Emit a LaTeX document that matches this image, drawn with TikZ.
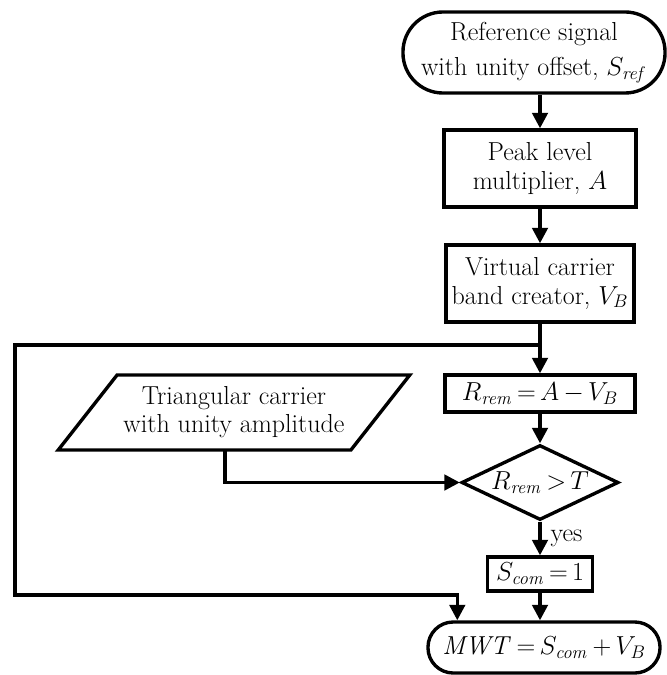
\RequirePackage{fix-cm}
\documentclass[tikz,border=0pt]{standalone}
\usepackage{tikz}
\usetikzlibrary{arrows.meta}
\usetikzlibrary{shapes.geometric}
\usetikzlibrary{calc}
\usetikzlibrary{positioning}

\newcommand{\flowfont}{\fontsize{18.5}{20}\selectfont\thickmuskip=3mu\relax\medmuskip=3mu\relax}
\tikzset{
  blk/.style={draw, line width=2.4pt, align=center, inner sep=2pt, font=\flowfont},
  arw/.style={line width=2.4pt, -{Triangle[length=11pt,width=11pt]}},
}

\begin{document}
\begin{tikzpicture}[x=0.025cm, y=-0.025cm]
    \useasboundingbox (0,0) rectangle (666,675);

    % main column
    \node[blk, rounded corners=1cm, minimum width=6.55cm, minimum height=2.025cm] (start) at (534,52.5)
        {Reference signal\\[5pt] with unity offset, $S_{\mathit{ref}}$};
    \node[blk, minimum width=4.8cm, minimum height=1.925cm] (peak) at (540,168.5)
        {Peak level\\ multiplier, $A$};
    \node[blk, minimum width=4.7cm, minimum height=1.925cm] (vband) at (540,283.5)
        {Virtual carrier\\ band creator, $V_B$};
    \node[blk, minimum width=4.75cm, minimum height=0.925cm] (rrem) at (540,393.5)
        {$R_{\mathit{rem}} = A - V_B$};
    \node[blk, diamond, aspect=2, inner sep=0pt, minimum width=3.925cm, minimum height=1.875cm] (cmp) at (540,482.5)
        {$R_{\mathit{rem}} > T$};
    \node[blk, minimum width=2.625cm, minimum height=0.85cm] (scom) at (540,574)
        {$S_{\mathit{com}} = 1$};
    \node[blk, rounded corners=0.63cm, minimum width=5.8cm, minimum height=1.275cm] (mwt) at (544,647.5)
        {$\mathit{MWT} = S_{\mathit{com}} + V_B$};

    % carrier input
    \node[blk, trapezium, trapezium left angle=45, trapezium right angle=135, trapezium stretches=true,
        minimum width=8.8cm, minimum height=1.875cm] (tri) at (234,412.5)
        {Triangular carrier\\ with unity amplitude};

    \draw[arw] (peak.north |- start.south) -- (peak.north);
    \draw[arw] (peak) -- (vband);
    \draw[arw] (vband) -- (rrem);
    \draw[arw] (rrem) -- (cmp);
    \draw[arw] (cmp) -- node[right=3pt, font=\flowfont] (yeslbl) {yes} (scom);
    \draw[arw] (scom.south) -- (scom.south |- mwt.north);

    \coordinate (trout) at (225,450);
    \draw[arw] (trout) |- (cmp.west);

    % bypass loop
    \coordinate (jn) at (540,345);
    \coordinate (lpb) at (15,595);
    \coordinate (mwtin) at ($(mwt.north west)+(31,0)$);
    \draw[arw] (jn) -| (lpb) -| (mwtin);
\end{tikzpicture}
\end{document}
